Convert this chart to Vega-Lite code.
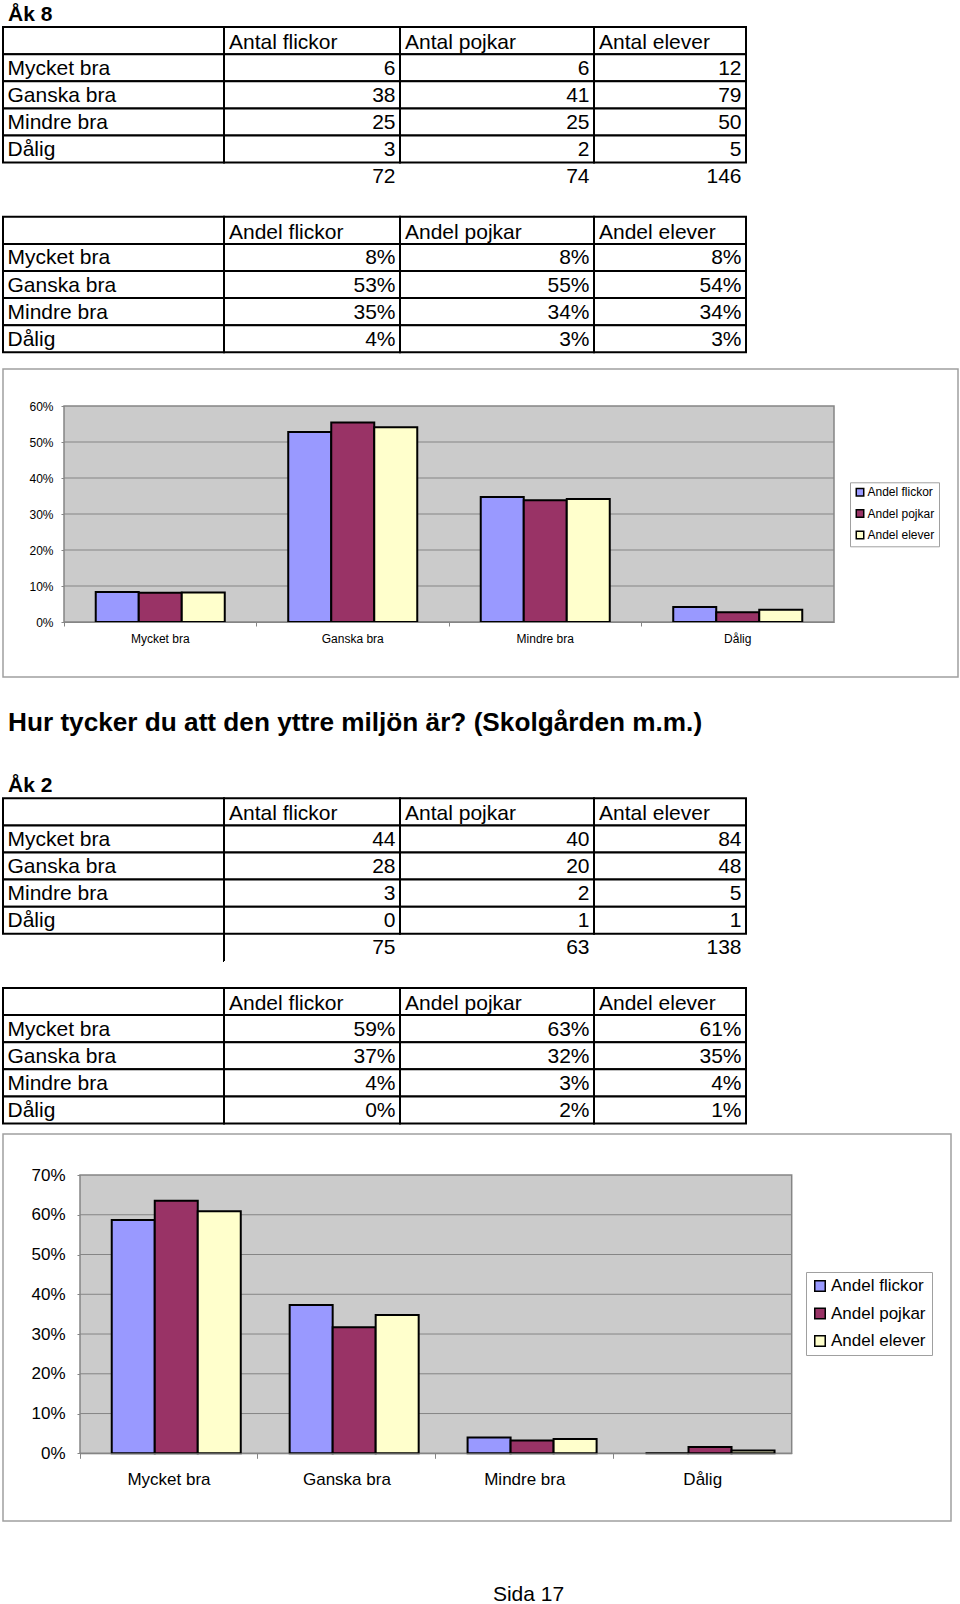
{
"$schema": "https://vega.github.io/schema/vega-lite/v6.json",
"padding": {"left": 2, "top": 0, "right": 0, "bottom": 0},
"autosize": {"type": "pad"},
"bounds": "full",
"spacing": 0,
"resolve": {"scale": {"color": "independent"}, "legend": {"color": "independent"}},
"config": {
  "font": "Liberation Sans",
  "view": {"stroke": null},
  "text": {"color": "black"},
  "axis": {"labelFont": "Liberation Sans", "labelColor": "black"},
  "legend": {"labelFont": "Liberation Sans", "labelColor": "black"}
},
"datasets": {
  "tA": [
    {"r":"a0","c":"c0","t":"Åk 8","k":"head"},
    {"r":"a1","c":"c0","t":"","k":"hdr"},
    {"r":"a1","c":"c1","t":"Antal flickor","k":"hdr"},
    {"r":"a1","c":"c2","t":"Antal pojkar","k":"hdr"},
    {"r":"a1","c":"c3","t":"Antal elever","k":"hdr"},
    {"r":"a2","c":"c0","t":"Mycket bra","k":"lab"},
    {"r":"a2","c":"c1","t":"6","k":"num"},
    {"r":"a2","c":"c2","t":"6","k":"num"},
    {"r":"a2","c":"c3","t":"12","k":"num"},
    {"r":"a3","c":"c0","t":"Ganska bra","k":"lab"},
    {"r":"a3","c":"c1","t":"38","k":"num"},
    {"r":"a3","c":"c2","t":"41","k":"num"},
    {"r":"a3","c":"c3","t":"79","k":"num"},
    {"r":"a4","c":"c0","t":"Mindre bra","k":"lab"},
    {"r":"a4","c":"c1","t":"25","k":"num"},
    {"r":"a4","c":"c2","t":"25","k":"num"},
    {"r":"a4","c":"c3","t":"50","k":"num"},
    {"r":"a5","c":"c0","t":"Dålig","k":"lab"},
    {"r":"a5","c":"c1","t":"3","k":"num"},
    {"r":"a5","c":"c2","t":"2","k":"num"},
    {"r":"a5","c":"c3","t":"5","k":"num"},
    {"r":"a6","c":"c1","t":"72","k":"tot"},
    {"r":"a6","c":"c2","t":"74","k":"tot"},
    {"r":"a6","c":"c3","t":"146","k":"tot"},
    {"r":"a8","c":"c0","t":"","k":"hdr"},
    {"r":"a8","c":"c1","t":"Andel flickor","k":"hdr"},
    {"r":"a8","c":"c2","t":"Andel pojkar","k":"hdr"},
    {"r":"a8","c":"c3","t":"Andel elever","k":"hdr"},
    {"r":"a9","c":"c0","t":"Mycket bra","k":"lab"},
    {"r":"a9","c":"c1","t":"8%","k":"num"},
    {"r":"a9","c":"c2","t":"8%","k":"num"},
    {"r":"a9","c":"c3","t":"8%","k":"num"},
    {"r":"a10","c":"c0","t":"Ganska bra","k":"lab"},
    {"r":"a10","c":"c1","t":"53%","k":"num"},
    {"r":"a10","c":"c2","t":"55%","k":"num"},
    {"r":"a10","c":"c3","t":"54%","k":"num"},
    {"r":"a11","c":"c0","t":"Mindre bra","k":"lab"},
    {"r":"a11","c":"c1","t":"35%","k":"num"},
    {"r":"a11","c":"c2","t":"34%","k":"num"},
    {"r":"a11","c":"c3","t":"34%","k":"num"},
    {"r":"a12","c":"c0","t":"Dålig","k":"lab"},
    {"r":"a12","c":"c1","t":"4%","k":"num"},
    {"r":"a12","c":"c2","t":"3%","k":"num"},
    {"r":"a12","c":"c3","t":"3%","k":"num"}
  ],
  "tB": [
    {"r":"b0","c":"c0","t":"Hur tycker du att den yttre miljön är? (Skolgården m.m.)","k":"title"},
    {"r":"b2","c":"c0","t":"Åk 2","k":"head"},
    {"r":"b3","c":"c0","t":"","k":"hdr"},
    {"r":"b3","c":"c1","t":"Antal flickor","k":"hdr"},
    {"r":"b3","c":"c2","t":"Antal pojkar","k":"hdr"},
    {"r":"b3","c":"c3","t":"Antal elever","k":"hdr"},
    {"r":"b4","c":"c0","t":"Mycket bra","k":"lab"},
    {"r":"b4","c":"c1","t":"44","k":"num"},
    {"r":"b4","c":"c2","t":"40","k":"num"},
    {"r":"b4","c":"c3","t":"84","k":"num"},
    {"r":"b5","c":"c0","t":"Ganska bra","k":"lab"},
    {"r":"b5","c":"c1","t":"28","k":"num"},
    {"r":"b5","c":"c2","t":"20","k":"num"},
    {"r":"b5","c":"c3","t":"48","k":"num"},
    {"r":"b6","c":"c0","t":"Mindre bra","k":"lab"},
    {"r":"b6","c":"c1","t":"3","k":"num"},
    {"r":"b6","c":"c2","t":"2","k":"num"},
    {"r":"b6","c":"c3","t":"5","k":"num"},
    {"r":"b7","c":"c0","t":"Dålig","k":"lab"},
    {"r":"b7","c":"c1","t":"0","k":"num"},
    {"r":"b7","c":"c2","t":"1","k":"num"},
    {"r":"b7","c":"c3","t":"1","k":"num"},
    {"r":"b8","c":"c1","t":"75","k":"totl"},
    {"r":"b8","c":"c2","t":"63","k":"tot"},
    {"r":"b8","c":"c3","t":"138","k":"tot"},
    {"r":"b10","c":"c0","t":"","k":"hdr"},
    {"r":"b10","c":"c1","t":"Andel flickor","k":"hdr"},
    {"r":"b10","c":"c2","t":"Andel pojkar","k":"hdr"},
    {"r":"b10","c":"c3","t":"Andel elever","k":"hdr"},
    {"r":"b11","c":"c0","t":"Mycket bra","k":"lab"},
    {"r":"b11","c":"c1","t":"59%","k":"num"},
    {"r":"b11","c":"c2","t":"63%","k":"num"},
    {"r":"b11","c":"c3","t":"61%","k":"num"},
    {"r":"b12","c":"c0","t":"Ganska bra","k":"lab"},
    {"r":"b12","c":"c1","t":"37%","k":"num"},
    {"r":"b12","c":"c2","t":"32%","k":"num"},
    {"r":"b12","c":"c3","t":"35%","k":"num"},
    {"r":"b13","c":"c0","t":"Mindre bra","k":"lab"},
    {"r":"b13","c":"c1","t":"4%","k":"num"},
    {"r":"b13","c":"c2","t":"3%","k":"num"},
    {"r":"b13","c":"c3","t":"4%","k":"num"},
    {"r":"b14","c":"c0","t":"Dålig","k":"lab"},
    {"r":"b14","c":"c1","t":"0%","k":"num"},
    {"r":"b14","c":"c2","t":"2%","k":"num"},
    {"r":"b14","c":"c3","t":"1%","k":"num"}
  ],
  "c1": [
    {"cat":"Mycket bra","s":"Andel flickor","v":0.083},
    {"cat":"Mycket bra","s":"Andel pojkar","v":0.081},
    {"cat":"Mycket bra","s":"Andel elever","v":0.082},
    {"cat":"Ganska bra","s":"Andel flickor","v":0.528},
    {"cat":"Ganska bra","s":"Andel pojkar","v":0.554},
    {"cat":"Ganska bra","s":"Andel elever","v":0.541},
    {"cat":"Mindre bra","s":"Andel flickor","v":0.347},
    {"cat":"Mindre bra","s":"Andel pojkar","v":0.338},
    {"cat":"Mindre bra","s":"Andel elever","v":0.342},
    {"cat":"Dålig","s":"Andel flickor","v":0.042},
    {"cat":"Dålig","s":"Andel pojkar","v":0.027},
    {"cat":"Dålig","s":"Andel elever","v":0.034}
  ],
  "c2": [
    {"cat":"Mycket bra","s":"Andel flickor","v":0.587},
    {"cat":"Mycket bra","s":"Andel pojkar","v":0.635},
    {"cat":"Mycket bra","s":"Andel elever","v":0.609},
    {"cat":"Ganska bra","s":"Andel flickor","v":0.373},
    {"cat":"Ganska bra","s":"Andel pojkar","v":0.317},
    {"cat":"Ganska bra","s":"Andel elever","v":0.348},
    {"cat":"Mindre bra","s":"Andel flickor","v":0.04},
    {"cat":"Mindre bra","s":"Andel pojkar","v":0.032},
    {"cat":"Mindre bra","s":"Andel elever","v":0.036},
    {"cat":"Dålig","s":"Andel flickor","v":0.0},
    {"cat":"Dålig","s":"Andel pojkar","v":0.016},
    {"cat":"Dålig","s":"Andel elever","v":0.007}
  ]
},
"vconcat": [
  {
    "spacing": 0, "bounds": "flush",
    "hconcat": [
      {"width": 221, "height": 368, "data": {"name": "tA"}, "transform": [{"filter": "datum.c == 'c0'"}],
       "encoding": {"y": {"field": "r", "type": "nominal", "axis": null, "scale": {"domain": ["a0","a1","a2","a3","a4","a5","a6","a7","a8","a9","a10","a11","a12"], "paddingInner": 0, "paddingOuter": 0.2897, "align": 0}}},
       "layer": [
        {"transform":[{"filter":"datum.k == 'hdr' || datum.k == 'lab' || datum.k == 'num'"}],"mark":{"type":"rect","fill":"white","stroke":"black","strokeWidth":2},"encoding":{"x":{"field":"c","type":"nominal","axis":null,"scale":{"paddingInner":0,"paddingOuter":0}}}},
        {"transform":[{"filter":"datum.k == 'lab'"}],"mark":{"type":"text","align":"left","baseline":"middle","fontSize":21,"dx":4.5,"dy":1},"encoding":{"x":{"field":"c","type":"nominal","bandPosition":0,"axis":null,"scale":{"paddingInner":0,"paddingOuter":0}},"text":{"field":"t"}}},
        {"transform":[{"filter":"datum.k == 'head'"}],"mark":{"type":"text","align":"left","baseline":"middle","fontSize":21,"fontWeight":"bold","dx":5,"dy":1},"encoding":{"x":{"field":"c","type":"nominal","bandPosition":0,"axis":null,"scale":{"paddingInner":0,"paddingOuter":0}},"text":{"field":"t"}}}
       ]},
      {"width": 176, "height": 368, "data": {"name": "tA"}, "transform": [{"filter": "datum.c == 'c1'"}],
       "encoding": {"y": {"field": "r", "type": "nominal", "axis": null, "scale": {"domain": ["a0","a1","a2","a3","a4","a5","a6","a7","a8","a9","a10","a11","a12"], "paddingInner": 0, "paddingOuter": 0.2897, "align": 0}}},
       "layer": [
        {"transform":[{"filter":"datum.k == 'hdr' || datum.k == 'lab' || datum.k == 'num'"}],"mark":{"type":"rect","fill":"white","stroke":"black","strokeWidth":2},"encoding":{"x":{"field":"c","type":"nominal","axis":null,"scale":{"paddingInner":0,"paddingOuter":0}}}},
        {"transform":[{"filter":"datum.k == 'hdr'"}],"mark":{"type":"text","align":"left","baseline":"middle","fontSize":21,"dx":5,"dy":2.5},"encoding":{"x":{"field":"c","type":"nominal","bandPosition":0,"axis":null,"scale":{"paddingInner":0,"paddingOuter":0}},"text":{"field":"t"}}},
        {"transform":[{"filter":"datum.k == 'num' || datum.k == 'tot' || datum.k == 'totl'"}],"mark":{"type":"text","align":"right","baseline":"middle","fontSize":21,"dx":-4.5,"dy":1},"encoding":{"x":{"field":"c","type":"nominal","bandPosition":1,"axis":null,"scale":{"paddingInner":0,"paddingOuter":0}},"text":{"field":"t"}}}
       ]},
      {"width": 194, "height": 368, "data": {"name": "tA"}, "transform": [{"filter": "datum.c == 'c2'"}],
       "encoding": {"y": {"field": "r", "type": "nominal", "axis": null, "scale": {"domain": ["a0","a1","a2","a3","a4","a5","a6","a7","a8","a9","a10","a11","a12"], "paddingInner": 0, "paddingOuter": 0.2897, "align": 0}}},
       "layer": [
        {"transform":[{"filter":"datum.k == 'hdr' || datum.k == 'lab' || datum.k == 'num'"}],"mark":{"type":"rect","fill":"white","stroke":"black","strokeWidth":2},"encoding":{"x":{"field":"c","type":"nominal","axis":null,"scale":{"paddingInner":0,"paddingOuter":0}}}},
        {"transform":[{"filter":"datum.k == 'hdr'"}],"mark":{"type":"text","align":"left","baseline":"middle","fontSize":21,"dx":5,"dy":2.5},"encoding":{"x":{"field":"c","type":"nominal","bandPosition":0,"axis":null,"scale":{"paddingInner":0,"paddingOuter":0}},"text":{"field":"t"}}},
        {"transform":[{"filter":"datum.k == 'num' || datum.k == 'tot' || datum.k == 'totl'"}],"mark":{"type":"text","align":"right","baseline":"middle","fontSize":21,"dx":-4.5,"dy":1},"encoding":{"x":{"field":"c","type":"nominal","bandPosition":1,"axis":null,"scale":{"paddingInner":0,"paddingOuter":0}},"text":{"field":"t"}}}
       ]},
      {"width": 152, "height": 368, "data": {"name": "tA"}, "transform": [{"filter": "datum.c == 'c3'"}],
       "encoding": {"y": {"field": "r", "type": "nominal", "axis": null, "scale": {"domain": ["a0","a1","a2","a3","a4","a5","a6","a7","a8","a9","a10","a11","a12"], "paddingInner": 0, "paddingOuter": 0.2897, "align": 0}}},
       "layer": [
        {"transform":[{"filter":"datum.k == 'hdr' || datum.k == 'lab' || datum.k == 'num'"}],"mark":{"type":"rect","fill":"white","stroke":"black","strokeWidth":2},"encoding":{"x":{"field":"c","type":"nominal","axis":null,"scale":{"paddingInner":0,"paddingOuter":0}}}},
        {"transform":[{"filter":"datum.k == 'hdr'"}],"mark":{"type":"text","align":"left","baseline":"middle","fontSize":21,"dx":5,"dy":2.5},"encoding":{"x":{"field":"c","type":"nominal","bandPosition":0,"axis":null,"scale":{"paddingInner":0,"paddingOuter":0}},"text":{"field":"t"}}},
        {"transform":[{"filter":"datum.k == 'num' || datum.k == 'tot' || datum.k == 'totl'"}],"mark":{"type":"text","align":"right","baseline":"middle","fontSize":21,"dx":-4.5,"dy":1},"encoding":{"x":{"field":"c","type":"nominal","bandPosition":1,"axis":null,"scale":{"paddingInner":0,"paddingOuter":0}},"text":{"field":"t"}}}
       ]}
    ]
  },
  {
    "width": 955, "height": 308,
    "view": {"stroke": "#a0a0a0", "strokeWidth": 1.5, "fill": "white"},
    "layer": [
      {"data": {"values": [{}]},
       "mark": {"type": "rect", "fill": "#cbcbcb", "stroke": "#858585", "strokeWidth": 1.5},
       "encoding": {
         "x": {"datum": "Mycket bra", "type": "nominal", "bandPosition": 0, "title": null,
               "scale": {"domain": ["Mycket bra","Ganska bra","Mindre bra","Dålig"], "range": [61, 831], "paddingInner": 0, "paddingOuter": 0},
               "axis": {"orient": "bottom", "offset": -55, "bandPosition": 0, "labelAngle": 0, "domainColor": "#858585", "tickColor": "#858585", "tickSize": 4, "labelFontSize": 12, "labelPadding": 7, "grid": false, "title": null}},
         "x2": {"datum": "Dålig", "bandPosition": 1},
         "y": {"datum": 0, "type": "quantitative", "title": null,
               "scale": {"domain": [0, 0.6], "range": [253, 37], "nice": false},
               "axis": {"orient": "left", "offset": -61, "values": [0,0.1,0.2,0.3,0.4,0.5,0.6], "format": ".0%", "grid": false, "domainColor": "#858585", "tickColor": "#858585", "tickSize": 3, "labelFontSize": 12, "labelPadding": 8, "title": null}},
         "y2": {"datum": 0.6}
       }},
      {"data": {"values": [{"v":0.1},{"v":0.2},{"v":0.3},{"v":0.4},{"v":0.5}]},
       "mark": {"type": "rule", "color": "#858585", "strokeWidth": 1},
       "encoding": {
         "x": {"datum": "Mycket bra", "type": "nominal", "bandPosition": 0, "title": null,
               "scale": {"domain": ["Mycket bra","Ganska bra","Mindre bra","Dålig"], "range": [61, 831], "paddingInner": 0, "paddingOuter": 0},
               "axis": {"orient": "bottom", "offset": -55, "bandPosition": 0, "labelAngle": 0, "domainColor": "#858585", "tickColor": "#858585", "tickSize": 4, "labelFontSize": 12, "labelPadding": 7, "grid": false, "title": null}},
         "x2": {"datum": "Dålig", "bandPosition": 1},
         "y": {"field": "v", "type": "quantitative", "title": null,
               "scale": {"domain": [0, 0.6], "range": [253, 37], "nice": false},
               "axis": {"orient": "left", "offset": -61, "values": [0,0.1,0.2,0.3,0.4,0.5,0.6], "format": ".0%", "grid": false, "domainColor": "#858585", "tickColor": "#858585", "tickSize": 3, "labelFontSize": 12, "labelPadding": 8, "title": null}}
       }},
      {"data": {"name": "c1"},
       "mark": {"type": "bar", "stroke": "black", "strokeWidth": 2},
       "encoding": {
         "x": {"field": "cat", "type": "nominal", "sort": null, "title": null,
               "scale": {"domain": ["Mycket bra","Ganska bra","Mindre bra","Dålig"], "range": [61, 831], "paddingInner": 0, "paddingOuter": 0},
               "axis": {"orient": "bottom", "offset": -55, "bandPosition": 0, "labelAngle": 0, "domainColor": "#858585", "tickColor": "#858585", "tickSize": 4, "labelFontSize": 12, "labelPadding": 7, "grid": false, "title": null}},
         "xOffset": {"field": "s", "type": "nominal", "sort": null, "scale": {"domain": ["Andel flickor","Andel pojkar","Andel elever"], "paddingInner": 0, "paddingOuter": 0.738}},
         "y": {"field": "v", "type": "quantitative", "title": null,
               "scale": {"domain": [0, 0.6], "range": [253, 37], "nice": false},
               "axis": {"orient": "left", "offset": -61, "values": [0,0.1,0.2,0.3,0.4,0.5,0.6], "format": ".0%", "grid": false, "domainColor": "#858585", "tickColor": "#858585", "tickSize": 3, "labelFontSize": 12, "labelPadding": 8, "title": null}},
         "color": {"field": "s", "type": "nominal", "sort": null,
               "scale": {"domain": ["Andel flickor","Andel pojkar","Andel elever"], "range": ["#9999ff","#993366","#ffffcc"]},
               "legend": {"title": null, "orient": "none", "legendX": 847, "legendY": 113.3, "direction": "vertical", "symbolType": "square", "symbolSize": 56, "symbolStrokeColor": "black", "symbolStrokeWidth": 1.5, "labelFontSize": 12, "labelOffset": 1.5, "rowPadding": 7.3, "padding": 4, "strokeColor": "#a0a0a0", "fillColor": "white"}}
       }}
    ]
  },
  {
    "spacing": 0, "bounds": "flush",
    "hconcat": [
      {"width": 221, "height": 455, "data": {"name": "tB"}, "transform": [{"filter": "datum.c == 'c0'"}],
       "encoding": {"y": {"field": "r", "type": "nominal", "axis": null, "scale": {"domain": ["b0","b1","b2","b3","b4","b5","b6","b7","b8","b9","b10","b11","b12","b13","b14"], "paddingInner": 0, "paddingOuter": 0.8948, "align": 0.8041}}},
       "layer": [
        {"transform":[{"filter":"datum.k == 'hdr' || datum.k == 'lab' || datum.k == 'num'"}],"mark":{"type":"rect","fill":"white","stroke":"black","strokeWidth":2},"encoding":{"x":{"field":"c","type":"nominal","axis":null,"scale":{"paddingInner":0,"paddingOuter":0}}}},
        {"transform":[{"filter":"datum.k == 'lab'"}],"mark":{"type":"text","align":"left","baseline":"middle","fontSize":21,"dx":4.5,"dy":1},"encoding":{"x":{"field":"c","type":"nominal","bandPosition":0,"axis":null,"scale":{"paddingInner":0,"paddingOuter":0}},"text":{"field":"t"}}},
        {"transform":[{"filter":"datum.k == 'head'"}],"mark":{"type":"text","align":"left","baseline":"middle","fontSize":21,"fontWeight":"bold","dx":5,"dy":1},"encoding":{"x":{"field":"c","type":"nominal","bandPosition":0,"axis":null,"scale":{"paddingInner":0,"paddingOuter":0}},"text":{"field":"t"}}},
        {"transform":[{"filter":"datum.k == 'title'"}],"mark":{"type":"text","align":"left","baseline":"middle","fontSize":26.2,"fontWeight":"bold","dx":5,"dy":-7.8},"encoding":{"x":{"field":"c","type":"nominal","bandPosition":0,"axis":null,"scale":{"paddingInner":0,"paddingOuter":0}},"text":{"field":"t"}}}
       ]},
      {"width": 176, "height": 455, "data": {"name": "tB"}, "transform": [{"filter": "datum.c == 'c1'"}],
       "encoding": {"y": {"field": "r", "type": "nominal", "axis": null, "scale": {"domain": ["b0","b1","b2","b3","b4","b5","b6","b7","b8","b9","b10","b11","b12","b13","b14"], "paddingInner": 0, "paddingOuter": 0.8948, "align": 0.8041}}},
       "layer": [
        {"transform":[{"filter":"datum.k == 'hdr' || datum.k == 'lab' || datum.k == 'num'"}],"mark":{"type":"rect","fill":"white","stroke":"black","strokeWidth":2},"encoding":{"x":{"field":"c","type":"nominal","axis":null,"scale":{"paddingInner":0,"paddingOuter":0}}}},
        {"transform":[{"filter":"datum.k == 'totl'"}],"mark":{"type":"rect","fill":"white","fillOpacity":0,"stroke":"black","strokeWidth":2,"strokeDash":[0,379.1,27.1,0]},"encoding":{"x":{"field":"c","type":"nominal","axis":null,"scale":{"paddingInner":0,"paddingOuter":0}}}},
        {"transform":[{"filter":"datum.k == 'hdr'"}],"mark":{"type":"text","align":"left","baseline":"middle","fontSize":21,"dx":5,"dy":2.5},"encoding":{"x":{"field":"c","type":"nominal","bandPosition":0,"axis":null,"scale":{"paddingInner":0,"paddingOuter":0}},"text":{"field":"t"}}},
        {"transform":[{"filter":"datum.k == 'num' || datum.k == 'tot' || datum.k == 'totl'"}],"mark":{"type":"text","align":"right","baseline":"middle","fontSize":21,"dx":-4.5,"dy":1},"encoding":{"x":{"field":"c","type":"nominal","bandPosition":1,"axis":null,"scale":{"paddingInner":0,"paddingOuter":0}},"text":{"field":"t"}}}
       ]},
      {"width": 194, "height": 455, "data": {"name": "tB"}, "transform": [{"filter": "datum.c == 'c2'"}],
       "encoding": {"y": {"field": "r", "type": "nominal", "axis": null, "scale": {"domain": ["b0","b1","b2","b3","b4","b5","b6","b7","b8","b9","b10","b11","b12","b13","b14"], "paddingInner": 0, "paddingOuter": 0.8948, "align": 0.8041}}},
       "layer": [
        {"transform":[{"filter":"datum.k == 'hdr' || datum.k == 'lab' || datum.k == 'num'"}],"mark":{"type":"rect","fill":"white","stroke":"black","strokeWidth":2},"encoding":{"x":{"field":"c","type":"nominal","axis":null,"scale":{"paddingInner":0,"paddingOuter":0}}}},
        {"transform":[{"filter":"datum.k == 'hdr'"}],"mark":{"type":"text","align":"left","baseline":"middle","fontSize":21,"dx":5,"dy":2.5},"encoding":{"x":{"field":"c","type":"nominal","bandPosition":0,"axis":null,"scale":{"paddingInner":0,"paddingOuter":0}},"text":{"field":"t"}}},
        {"transform":[{"filter":"datum.k == 'num' || datum.k == 'tot' || datum.k == 'totl'"}],"mark":{"type":"text","align":"right","baseline":"middle","fontSize":21,"dx":-4.5,"dy":1},"encoding":{"x":{"field":"c","type":"nominal","bandPosition":1,"axis":null,"scale":{"paddingInner":0,"paddingOuter":0}},"text":{"field":"t"}}}
       ]},
      {"width": 152, "height": 455, "data": {"name": "tB"}, "transform": [{"filter": "datum.c == 'c3'"}],
       "encoding": {"y": {"field": "r", "type": "nominal", "axis": null, "scale": {"domain": ["b0","b1","b2","b3","b4","b5","b6","b7","b8","b9","b10","b11","b12","b13","b14"], "paddingInner": 0, "paddingOuter": 0.8948, "align": 0.8041}}},
       "layer": [
        {"transform":[{"filter":"datum.k == 'hdr' || datum.k == 'lab' || datum.k == 'num'"}],"mark":{"type":"rect","fill":"white","stroke":"black","strokeWidth":2},"encoding":{"x":{"field":"c","type":"nominal","axis":null,"scale":{"paddingInner":0,"paddingOuter":0}}}},
        {"transform":[{"filter":"datum.k == 'hdr'"}],"mark":{"type":"text","align":"left","baseline":"middle","fontSize":21,"dx":5,"dy":2.5},"encoding":{"x":{"field":"c","type":"nominal","bandPosition":0,"axis":null,"scale":{"paddingInner":0,"paddingOuter":0}},"text":{"field":"t"}}},
        {"transform":[{"filter":"datum.k == 'num' || datum.k == 'tot' || datum.k == 'totl'"}],"mark":{"type":"text","align":"right","baseline":"middle","fontSize":21,"dx":-4.5,"dy":1},"encoding":{"x":{"field":"c","type":"nominal","bandPosition":1,"axis":null,"scale":{"paddingInner":0,"paddingOuter":0}},"text":{"field":"t"}}}
       ]}
    ]
  },
  {
    "width": 948, "height": 387,
    "view": {"stroke": "#a0a0a0", "strokeWidth": 1.5, "fill": "white"},
    "layer": [
      {"data": {"values": [{}]},
       "mark": {"type": "rect", "fill": "#cbcbcb", "stroke": "#858585", "strokeWidth": 1.5},
       "encoding": {
         "x": {"datum": "Mycket bra", "type": "nominal", "bandPosition": 0, "title": null,
               "scale": {"domain": ["Mycket bra","Ganska bra","Mindre bra","Dålig"], "range": [77, 788.7], "paddingInner": 0, "paddingOuter": 0},
               "axis": {"orient": "bottom", "offset": -67.7, "bandPosition": 0, "labelAngle": 0, "domainColor": "#858585", "tickColor": "#858585", "tickSize": 5, "labelFontSize": 17, "labelPadding": 13, "grid": false, "title": null}},
         "x2": {"datum": "Dålig", "bandPosition": 1},
         "y": {"datum": 0, "type": "quantitative", "title": null,
               "scale": {"domain": [0, 0.7], "range": [319.3, 41], "nice": false},
               "axis": {"orient": "left", "offset": -77, "values": [0,0.1,0.2,0.3,0.4,0.5,0.6,0.7], "format": ".0%", "grid": false, "domainColor": "#858585", "tickColor": "#858585", "tickSize": 3, "labelFontSize": 17, "labelPadding": 12, "title": null}},
         "y2": {"datum": 0.7}
       }},
      {"data": {"values": [{"v":0.1},{"v":0.2},{"v":0.3},{"v":0.4},{"v":0.5},{"v":0.6}]},
       "mark": {"type": "rule", "color": "#858585", "strokeWidth": 1},
       "encoding": {
         "x": {"datum": "Mycket bra", "type": "nominal", "bandPosition": 0, "title": null,
               "scale": {"domain": ["Mycket bra","Ganska bra","Mindre bra","Dålig"], "range": [77, 788.7], "paddingInner": 0, "paddingOuter": 0},
               "axis": {"orient": "bottom", "offset": -67.7, "bandPosition": 0, "labelAngle": 0, "domainColor": "#858585", "tickColor": "#858585", "tickSize": 5, "labelFontSize": 17, "labelPadding": 13, "grid": false, "title": null}},
         "x2": {"datum": "Dålig", "bandPosition": 1},
         "y": {"field": "v", "type": "quantitative", "title": null,
               "scale": {"domain": [0, 0.7], "range": [319.3, 41], "nice": false},
               "axis": {"orient": "left", "offset": -77, "values": [0,0.1,0.2,0.3,0.4,0.5,0.6,0.7], "format": ".0%", "grid": false, "domainColor": "#858585", "tickColor": "#858585", "tickSize": 3, "labelFontSize": 17, "labelPadding": 12, "title": null}}
       }},
      {"data": {"name": "c2"},
       "mark": {"type": "bar", "stroke": "black", "strokeWidth": 2},
       "encoding": {
         "x": {"field": "cat", "type": "nominal", "sort": null, "title": null,
               "scale": {"domain": ["Mycket bra","Ganska bra","Mindre bra","Dålig"], "range": [77, 788.7], "paddingInner": 0, "paddingOuter": 0},
               "axis": {"orient": "bottom", "offset": -67.7, "bandPosition": 0, "labelAngle": 0, "domainColor": "#858585", "tickColor": "#858585", "tickSize": 5, "labelFontSize": 17, "labelPadding": 13, "grid": false, "title": null}},
         "xOffset": {"field": "s", "type": "nominal", "sort": null, "scale": {"domain": ["Andel flickor","Andel pojkar","Andel elever"], "paddingInner": 0, "paddingOuter": 0.74}},
         "y": {"field": "v", "type": "quantitative", "title": null,
               "scale": {"domain": [0, 0.7], "range": [319.3, 41], "nice": false},
               "axis": {"orient": "left", "offset": -77, "values": [0,0.1,0.2,0.3,0.4,0.5,0.6,0.7], "format": ".0%", "grid": false, "domainColor": "#858585", "tickColor": "#858585", "tickSize": 3, "labelFontSize": 17, "labelPadding": 12, "title": null}},
         "color": {"field": "s", "type": "nominal", "sort": null,
               "scale": {"domain": ["Andel flickor","Andel pojkar","Andel elever"], "range": ["#9999ff","#993366","#ffffcc"]},
               "legend": {"title": null, "orient": "none", "legendX": 803, "legendY": 138, "direction": "vertical", "symbolType": "square", "symbolSize": 110, "symbolStrokeColor": "black", "symbolStrokeWidth": 1.5, "labelFontSize": 17, "labelOffset": 2.5, "rowPadding": 9.5, "padding": 5.5, "strokeColor": "#a0a0a0", "fillColor": "white"}}
       }}
    ]
  },
  {
    "width": 955, "height": 82,
    "data": {"values": [{"t": "Sida 17"}]},
    "mark": {"type": "text", "fontSize": 21, "baseline": "middle", "dx": 48, "dy": 32.4},
    "encoding": {"text": {"field": "t"}}
  }
]
}
